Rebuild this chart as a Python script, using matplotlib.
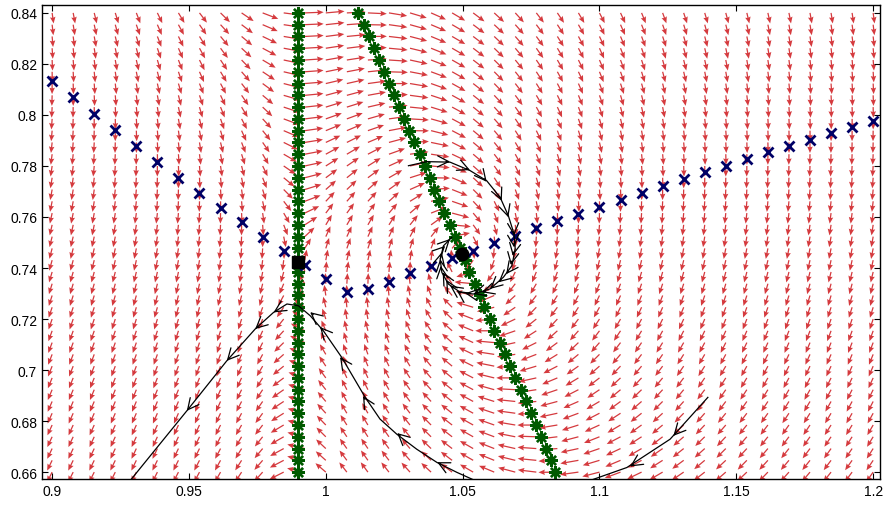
import numpy as np
import matplotlib
matplotlib.use('Agg')
import matplotlib.pyplot as plt

plt.rcParams['font.family'] = ['Liberation Sans', 'DejaVu Sans']

# ---------------- data ----------------
x_grid = np.linspace(0.9, 1.2, 40)
y_grid = np.linspace(0.66, 0.84, 40)

# blue "x" curve (one value per grid column)
blue_y = [0.8134, 0.8069, 0.8004, 0.7941, 0.7877, 0.7814, 0.7754, 0.7695,
          0.7635, 0.7579, 0.7523, 0.7466, 0.7410, 0.7357, 0.7305, 0.7318,
          0.7346, 0.7379, 0.7409, 0.7438, 0.7468, 0.7498, 0.7527, 0.7556,
          0.7584, 0.7612, 0.7640, 0.7667, 0.7694, 0.7720, 0.7749, 0.7775,
          0.7801, 0.7827, 0.7854, 0.7877, 0.7903, 0.7929, 0.7952, 0.7978]

# green vertical curve
green_vert_x = 0.99
# green slanted curve (one value per grid row, from y=0.84 down to y=0.66)
green_slant_x = [1.0119, 1.0140, 1.0158, 1.0176, 1.0195, 1.0214, 1.0231, 1.0250,
                 1.0268, 1.0286, 1.0304, 1.0324, 1.0345, 1.0363, 1.0381, 1.0397,
                 1.0415, 1.0433, 1.0454, 1.0472, 1.0491, 1.0507, 1.0524, 1.0546,
                 1.0564, 1.0578, 1.0600, 1.0616, 1.0637, 1.0655, 1.0673, 1.0693,
                 1.0712, 1.0732, 1.0749, 1.0767, 1.0786, 1.0805, 1.0822, 1.0839]

# equilibria
saddle_x, saddle_y = 0.99, 0.7425
focus_x, focus_y = 1.0498, 0.7455

# trajectory A (time order: from bottom, up to the vertical curve, then down-left)
traj_a_x = [1.0560, 1.0479, 1.0406, 1.0332, 1.0259, 1.0198, 1.0144, 1.0058,
            0.9991, 0.9943, 0.9900, 0.9858, 0.9809, 0.9742, 0.9638, 0.9492, 0.9280]
traj_a_y = [0.6560, 0.6599, 0.6638, 0.6690, 0.6749, 0.6808, 0.6893, 0.7050,
            0.7154, 0.7213, 0.7252, 0.7259, 0.7226, 0.7161, 0.7036, 0.6840, 0.6560]
traj_a_arrow_x = [1.0407, 1.0261, 1.0136, 1.0052, 0.9979, 0.9943, 0.9809, 0.9742, 0.9638, 0.9492]
traj_a_arrow_y = [0.6639, 0.6753, 0.6898, 0.7051, 0.7169, 0.7227, 0.7226, 0.7161, 0.7036, 0.6840]

# trajectory B (bottom right)
traj_b_x = [1.1396, 1.1258, 1.1100, 1.0960]
traj_b_y = [0.6893, 0.6729, 0.6618, 0.6565]
traj_b_arrow_x = [1.1270, 1.1112]
traj_b_arrow_y = [0.6742, 0.6622]

# trajectory C (spiral around the focus)
traj_c_x = [1.0302, 1.0369, 1.0454, 1.0527, 1.0588, 1.0637, 1.0667, 1.0688,
            1.0692, 1.0680, 1.0649, 1.0600, 1.0539, 1.0491, 1.0448, 1.0424,
            1.0418, 1.0430, 1.0460]
traj_c_y = [0.7801, 0.7817, 0.7815, 0.7782, 0.7742, 0.7677, 0.7605, 0.7533,
            0.7475, 0.7409, 0.7364, 0.7318, 0.7298, 0.7305, 0.7337, 0.7383,
            0.7435, 0.7487, 0.7520]
traj_c_arrow_x = [1.0454, 1.0527, 1.0588, 1.0643, 1.0667, 1.0688, 1.0688, 1.0683,
                  1.0676, 1.0659, 1.0631, 1.0600, 1.0570, 1.0539, 1.0509, 1.0479,
                  1.0454, 1.0440, 1.0427, 1.0420, 1.0418, 1.0424, 1.0436, 1.0454]
traj_c_arrow_y = [0.7817, 0.7784, 0.7738, 0.7664, 0.7599, 0.7527, 0.7481, 0.7448,
                  0.7412, 0.7376, 0.7344, 0.7318, 0.7305, 0.7298, 0.7301, 0.7311,
                  0.7331, 0.7354, 0.7383, 0.7409, 0.7435, 0.7462, 0.7487, 0.7514]

x_ticks = [0.9, 0.95, 1.0, 1.05, 1.1, 1.15, 1.2]
x_tick_labels = ['0.9', '0.95', '1', '1.05', '1.1', '1.15', '1.2']
y_ticks = [0.66, 0.68, 0.70, 0.72, 0.74, 0.76, 0.78, 0.80, 0.82, 0.84]
y_tick_labels = ['0.66', '0.68', '0.7', '0.72', '0.74', '0.76', '0.78', '0.8', '0.82', '0.84']

# ---------------- figure ----------------
fig = plt.figure(figsize=(8.85, 5.06), dpi=100)
ax = fig.add_axes([42/885, 26/506, 838/885, 474/506])

# direction field built from the two curves above
X, Y = np.meshgrid(x_grid, y_grid)
b_cols = np.array(blue_y)[None, :]
s_rows = np.array(green_slant_x[::-1])[:, None]
U = Y - b_cols
V = -1.8 * np.tanh((X - green_vert_x) / 0.02) * (X - s_rows)
dxg = x_grid[1] - x_grid[0]
dyg = y_grid[1] - y_grid[0]
gu, gv = U / dxg, V / dyg
nrm = np.hypot(gu, gv)
Uq = 0.9 * gu / nrm * dxg
Vq = 0.9 * gv / nrm * dyg
ax.quiver(X, Y, Uq, Vq, angles='xy', scale_units='xy', scale=1, pivot='tail',
          color='#d53a3e', units='dots', width=1.25, headwidth=4.4,
          headlength=5.2, headaxislength=4.6, zorder=1)

# green curves
ax.plot(np.full(len(y_grid), green_vert_x), y_grid[::-1], linestyle='none',
        marker=(8, 2, 0), ms=9, mew=1.7, color='#005a00', zorder=2)
ax.plot(green_slant_x, y_grid[::-1], linestyle='none',
        marker=(8, 2, 0), ms=9, mew=1.7, color='#005a00', zorder=2)

# blue curve
ax.plot(x_grid, blue_y, linestyle='none', marker='x', ms=6.5, mew=2.0,
        color='#000066', zorder=3)


def draw_traj(xs, ys, axs, ays):
    xs = np.asarray(xs); ys = np.asarray(ys)
    ax.plot(xs, ys, color='black', lw=0.9, zorder=4)
    pts = np.column_stack([xs, ys])
    for cx, cy in zip(axs, ays):
        p = np.array([cx, cy])
        best, bi = 1e9, 0
        for i in range(len(pts) - 1):
            a, b = pts[i], pts[i + 1]
            d = b - a
            t = np.clip(np.dot(p - a, d) / np.dot(d, d), 0, 1)
            dist = np.linalg.norm(a + t * d - p)
            if dist < best:
                best, bi = dist, i
        d = pts[bi + 1] - pts[bi]
        d = d / np.linalg.norm(d)
        tail = p - d * 0.0015
        ax.annotate('', xy=(cx, cy), xytext=tuple(tail),
                    arrowprops=dict(arrowstyle='->,head_length=0.8,head_width=0.4',
                                    color='black', lw=0.9, shrinkA=0, shrinkB=0),
                    zorder=4)


draw_traj(traj_a_x, traj_a_y, traj_a_arrow_x, traj_a_arrow_y)
draw_traj(traj_b_x, traj_b_y, traj_b_arrow_x, traj_b_arrow_y)
draw_traj(traj_c_x, traj_c_y, traj_c_arrow_x, traj_c_arrow_y)

# equilibria
ax.plot([saddle_x], [saddle_y], 's', ms=8.5, color='black', zorder=5)
ax.plot([focus_x], [focus_y], 'o', ms=9, color='black', zorder=5)

ax.set_xlim(0.8963, 1.2025)
ax.set_ylim(0.6573, 0.8431)
ax.set_xticks(x_ticks)
ax.set_xticklabels(x_tick_labels)
ax.set_yticks(y_ticks)
ax.set_yticklabels(y_tick_labels)
ax.tick_params(direction='in', length=4, width=0.8, top=True, right=True,
               labelsize=10, colors='black')
for sp in ax.spines.values():
    sp.set_linewidth(1.0)
    sp.set_color('black')

fig.savefig('out.png', dpi=100)
